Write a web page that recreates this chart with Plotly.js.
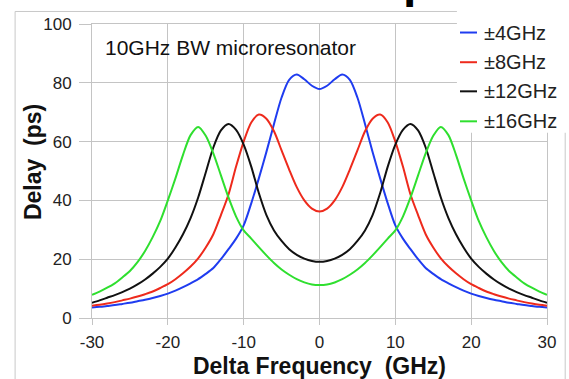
<!DOCTYPE html>
<html>
<head>
<meta charset="utf-8">
<script src="https://cdn.plot.ly/plotly-3.0.1.min.js"></script>
<style>html,body{margin:0;padding:0;background:#fff;}#chart{width:569px;height:379px;}</style>
</head>
<body>
<div id="chart"></div>
<script>
var freq = [-30,-29,-28,-27,-26,-25,-24,-23,-22,-21,-20,-19,-18,-17,-16,-15,-14,-13,-12,-11,-10,-9,-8,-7,-6,-5,-4,-3,-2,-1,0,1,2,3,4,5,6,7,8,9,10,11,12,13,14,15,16,17,18,19,20,21,22,23,24,25,26,27,28,29,30];

var delay4 = [3.6,3.8,4.1,4.4,4.8,5.2,5.7,6.2,6.8,7.5,8.3,9.3,10.5,11.8,13.2,15.0,17.0,20.0,23.4,27.0,31.5,39.0,47.5,56.5,66.0,75.0,81.0,82.8,81.2,79.0,77.9,79.0,81.2,82.8,81.0,75.0,66.0,56.5,47.5,39.0,31.5,27.0,23.4,20.0,17.0,15.0,13.2,11.8,10.5,9.3,8.3,7.5,6.8,6.2,5.7,5.2,4.8,4.4,4.1,3.8,3.6];

var delay8 = [4.2,4.5,4.9,5.4,6.0,6.6,7.3,8.1,9.0,10.2,11.5,13.2,15.2,17.5,20.3,24.0,28.5,35.0,42.0,51.5,60.0,66.5,69.2,67.8,63.5,57.0,50.5,44.5,40.0,37.2,36.2,37.2,40.0,44.5,50.5,57.0,63.5,67.8,69.2,66.5,60.0,51.5,42.0,35.0,28.5,24.0,20.3,17.5,15.2,13.2,11.5,10.2,9.0,8.1,7.3,6.6,6.0,5.4,4.9,4.5,4.2];

var delay12 = [5.2,6.0,6.9,7.8,8.8,10.0,11.4,13.1,15.1,17.4,20.2,24.0,28.5,34.0,41.0,49.5,58.0,63.8,66.0,64.0,59.0,51.5,42.5,35.0,29.8,26.2,23.4,21.5,20.2,19.4,19.1,19.4,20.2,21.5,23.4,26.2,29.8,35.0,42.5,51.5,59.0,64.0,66.0,63.8,58.0,49.5,41.0,34.0,28.5,24.0,20.2,17.4,15.1,13.1,11.4,10.0,8.8,7.8,6.9,6.0,5.2];

var delay16 = [7.9,9.0,10.3,11.8,13.8,16.0,19.0,22.8,27.5,33.0,40.0,47.5,55.5,62.2,65.0,62.0,56.0,48.5,41.0,34.5,29.8,27.0,24.1,21.3,18.7,16.5,14.7,13.2,12.1,11.4,11.2,11.4,12.1,13.2,14.7,16.5,18.7,21.3,24.1,27.0,29.8,34.5,41.0,48.5,56.0,62.0,65.0,62.2,55.5,47.5,40.0,33.0,27.5,22.8,19.0,16.0,13.8,11.8,10.3,9.0,7.9];

var seriesNames = ['\u00b14GHz','\u00b18GHz','\u00b112GHz','\u00b116GHz'];
var xTicks = [-30,-20,-10,0,10,20,30];
var yTicks = [0,20,40,60,80,100];
var xTitle = 'Delta Frequency\u00a0 (GHz)';
var yTitle = 'Delay\u00a0 (ps)';
var noteText = '10GHz BW microresonator';

var colors = ['#1f3cf0','#ee2a1c','#111111','#2fdf2f'];
var ys = [delay4, delay8, delay12, delay16];
var traces = ys.map(function(y, i){
  return {x: freq, y: y, type: 'scatter', mode: 'lines', name: seriesNames[i],
    showlegend: false,
    line: {color: colors[i], width: 2, shape: 'spline', smoothing: 0.8}};
});

var gridC = '#c4c4c4';
var fam = 'Liberation Sans, Arial, sans-serif';

// legend drawn as shapes + annotations (paper coordinates)
var legRowsY = [0.971, 0.870, 0.771, 0.669];
var legShapes = [];
var legAnn = [];
seriesNames.forEach(function(n, i){
  legShapes.push({type: 'line', xref: 'paper', yref: 'paper', x0: 0.8088, x1: 0.8462,
    y0: legRowsY[i], y1: legRowsY[i], line: {color: colors[i], width: 2}, layer: 'above'});
  legAnn.push({text: n, xref: 'paper', yref: 'paper', x: 0.857, y: legRowsY[i],
    xanchor: 'left', yanchor: 'middle', showarrow: false,
    font: {size: 20, color: '#222', family: fam}});
});

var layout = {
  width: 569, height: 379,
  margin: {l: 92, r: 22, t: 24, b: 61},
  paper_bgcolor: '#ffffff', plot_bgcolor: '#ffffff',
  font: {family: fam, color: '#222'},
  showlegend: false,
  xaxis: {range: [-30, 30], tickvals: xTicks, ticktext: xTicks.map(String),
    showgrid: true, gridcolor: gridC, gridwidth: 1, zeroline: false,
    showline: true, linecolor: gridC, linewidth: 1, mirror: true,
    ticks: 'outside', ticklen: 6, tickcolor: gridC, ticklabelstandoff: 3,
    tickfont: {size: 17, color: '#222'},
    title: {text: xTitle, font: {size: 23, color: '#111', family: fam, weight: 'bold'}, standoff: 9}},
  yaxis: {range: [0, 100], tickvals: yTicks, ticktext: yTicks.map(String),
    showgrid: true, gridcolor: gridC, gridwidth: 1, zeroline: false,
    showline: true, linecolor: gridC, linewidth: 1, mirror: true,
    ticks: 'outside', ticklen: 12, tickcolor: gridC, ticklabelstandoff: 4,
    tickfont: {size: 17, color: '#222'}},
  annotations: [
    {text: noteText, xref: 'paper', yref: 'paper', x: 0.025, y: 0.92,
     xanchor: 'left', yanchor: 'middle', showarrow: false,
     font: {size: 21, color: '#111', family: fam}},
    {text: yTitle, xref: 'paper', yref: 'paper', x: -0.13, y: 0.53,
     xanchor: 'center', yanchor: 'middle', textangle: -90, showarrow: false,
     font: {size: 23, color: '#111', family: fam, weight: 'bold'}},
    {text: 'p', xref: 'paper', yref: 'paper', x: 0.716, y: 1.05,
     xanchor: 'center', yanchor: 'bottom', showarrow: false,
     font: {size: 48, color: '#000', family: fam, weight: 'bold'}}
  ].concat(legAnn),
  shapes: [
    {type: 'rect', xref: 'paper', yref: 'paper', x0: -0.169, x1: 1.04, y0: -0.3, y1: 1.0426,
     line: {color: '#c8c8c8', width: 1}, fillcolor: 'rgba(0,0,0,0)', layer: 'above'},
    {type: 'rect', xref: 'paper', yref: 'paper', x0: 0.802, x1: 1.1, y0: 0.63, y1: 1.1,
     line: {width: 0}, fillcolor: '#ffffff', layer: 'above'}
  ].concat(legShapes)
};

Plotly.newPlot('chart', traces, layout, {displayModeBar: false, staticPlot: true});
</script>
</body>
</html>
